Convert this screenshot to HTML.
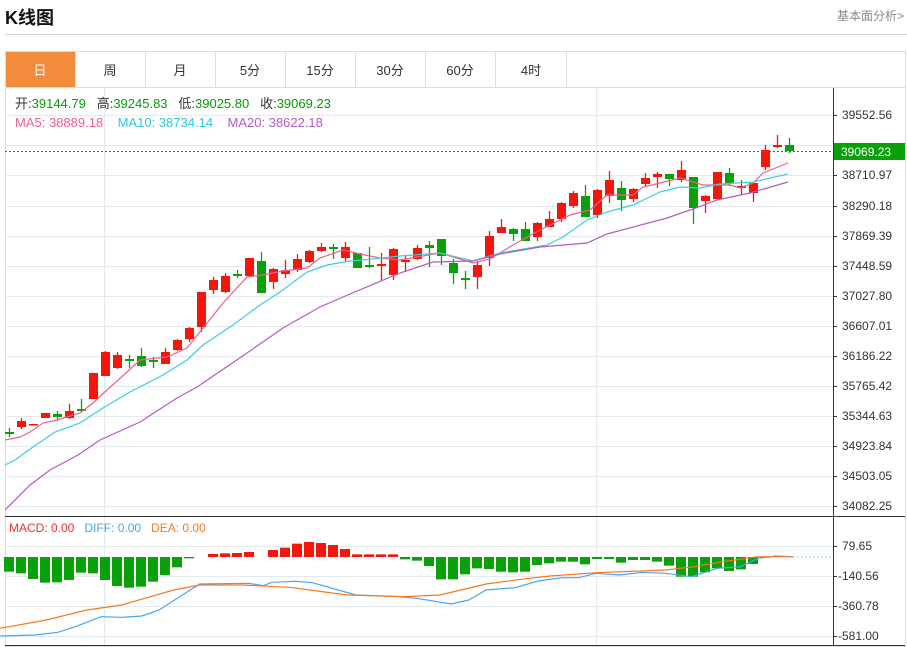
<!DOCTYPE html>
<html><head><meta charset="utf-8"><style>
body{margin:0;background:#fff;width:907px;height:647px;overflow:hidden;font-family:"Liberation Sans","Noto Sans CJK SC",sans-serif;position:relative}
.t{position:absolute;white-space:nowrap}
</style></head><body>
<div class="t" style="left:5px;top:4px;font-size:18px;font-weight:bold;color:#111">K线图</div>
<div class="t" style="left:837px;top:7px;font-size:12px;color:#888">基本面分析&gt;</div>
<div style="position:absolute;left:5px;top:34px;width:902px;height:1px;background:#d4d4d4"></div>
<svg id="s" width="907" height="647" style="position:absolute;left:0;top:0" xmlns="http://www.w3.org/2000/svg" font-family="Liberation Sans, Noto Sans CJK SC, sans-serif">
<rect x="5.5" y="51.5" width="900" height="595" fill="none" stroke="#ddd"/>
<rect x="6" y="52" width="69" height="35" fill="#f28c3c"/>
<g stroke="#ddd"><line x1="5" y1="87.5" x2="905" y2="87.5"/>
<line x1="75.5" y1="52" x2="75.5" y2="87"/><line x1="145.5" y1="52" x2="145.5" y2="87"/><line x1="215.5" y1="52" x2="215.5" y2="87"/><line x1="285.5" y1="52" x2="285.5" y2="87"/><line x1="355.5" y1="52" x2="355.5" y2="87"/><line x1="425.5" y1="52" x2="425.5" y2="87"/><line x1="495.5" y1="52" x2="495.5" y2="87"/><line x1="566.5" y1="52" x2="566.5" y2="87"/></g>
<g font-size="13" text-anchor="middle" fill="#333">
<text x="40" y="75" fill="#fff">日</text><text x="110" y="75">周</text><text x="180" y="75">月</text><text x="250" y="75">5分</text><text x="320" y="75">15分</text><text x="390" y="75">30分</text><text x="460" y="75">60分</text><text x="531" y="75">4时</text></g>
<g id="grid" stroke="#e3ebf1"></g>
<line x1="833.5" y1="88" x2="833.5" y2="646" stroke="#333"/>
<line x1="5" y1="516.5" x2="905" y2="516.5" stroke="#333"/>
<line x1="5" y1="645.5" x2="905" y2="645.5" stroke="#333"/>
<g font-size="12" fill="#333" id="ax">
<text x="842" y="119">39552.56</text><text x="842" y="179">38710.97</text><text x="842" y="210">38290.18</text><text x="842" y="240">37869.39</text><text x="842" y="270">37448.59</text><text x="842" y="300">37027.80</text><text x="842" y="330">36607.01</text><text x="842" y="360">36186.22</text><text x="842" y="390">35765.42</text><text x="842" y="420">35344.63</text><text x="842" y="450">34923.84</text><text x="842" y="480">34503.05</text><text x="842" y="510">34082.25</text>
<text x="842" y="550">79.65</text><text x="838" y="580">-140.56</text><text x="838" y="610">-360.78</text><text x="838" y="640">-581.00</text></g>
<g id="c"></g>
<line x1="5" y1="151.5" x2="833" y2="151.5" stroke="#0a9a0a" stroke-dasharray="2,2"/>
<rect x="834" y="143" width="71" height="17" fill="#0aa00a"/>
<text x="841" y="156" font-size="12" fill="#fff">39069.23</text>
<g font-size="13"><text x="15" y="108" fill="#333" xml:space="preserve">开:<tspan fill="#0a9a0a">39144.79</tspan>   高:<tspan fill="#0a9a0a">39245.83</tspan>   低:<tspan fill="#0a9a0a">39025.80</tspan>   收:<tspan fill="#0a9a0a">39069.23</tspan></text>
<text x="15" y="127" fill="#f0608f" xml:space="preserve">MA5: 38889.18    <tspan fill="#30c8e0">MA10: 38734.14</tspan>    <tspan fill="#b05cc8">MA20: 38622.18</tspan></text>
<text x="9" y="532" font-size="12" fill="#ee3030" xml:space="preserve">MACD: 0.00   <tspan fill="#4da3ef">DIFF: 0.00</tspan>   <tspan fill="#f57a20">DEA: 0.00</tspan></text></g>
</svg>
<script>
var NS="http://www.w3.org/2000/svg",g=document.getElementById('grid'),c=document.getElementById('c'),ax=document.getElementById('ax');
function el(p,t,a){var e=document.createElementNS(NS,t);for(var k in a)e.setAttribute(k,a[k]);p.appendChild(e);return e}
[115,145,175,206,236,266,296,326,356,386,416,446,476,506,546,576,606,636].forEach(function(y){el(g,'line',{x1:5,x2:833,y1:y+.5,y2:y+.5});el(ax,'line',{x1:833,x2:837,y1:y+.5,y2:y+.5,stroke:'#333'})});
[104,596].forEach(function(x){el(g,'line',{x1:x+.5,x2:x+.5,y1:88,y2:645})});
var R='#f3160b',G='#0aa00a';
var K=[[432,434,428,437,'g'],[421,427,418,429,'r'],[424,425,424,425,'r'],[413,418,413,418,'r'],[414,417,411,420,'g'],[411,418,404,419,'r'],[409,411,399,412,'g'],[373,399,373,399,'r'],[352,376,351,376,'r'],[355,368,352,369,'r'],[359,361,355,368,'g'],[356,366,348,367,'g'],[360,362,357,368,'g'],[352,364,348,364,'r'],[340,350,339,351,'r'],[328,339,327,342,'r'],[292,327,292,332,'r'],[280,290,277,294,'r'],[276,292,273,293,'r'],[274,276,270,278,'g'],[258,276,258,276,'r'],[261,293,252,293,'g'],[269,282,268,289,'r'],[270,274,260,278,'r'],[259,270,254,272,'r'],[251,262,250,263,'r'],[247,251,243,252,'r'],[247,249,244,259,'g'],[247,258,242,262,'r'],[253,268,253,268,'g'],[265,267,247,268,'g'],[264,266,253,280,'r'],[249,275,248,280,'r'],[260,262,256,272,'r'],[248,259,245,260,'r'],[245,248,241,267,'g'],[239,256,239,265,'g'],[263,273,259,284,'g'],[278,280,271,289,'g'],[265,277,261,289,'r'],[236,258,231,266,'r'],[227,233,219,233,'r'],[229,234,228,241,'g'],[229,241,222,241,'g'],[223,237,222,241,'r'],[219,227,211,227,'r'],[203,219,202,222,'r'],[193,206,191,208,'r'],[196,217,185,217,'g'],[190,215,189,218,'r'],[180,196,171,203,'r'],[188,200,181,211,'g'],[189,199,188,202,'r'],[178,184,173,186,'r'],[174,177,172,188,'r'],[174,179,174,186,'g'],[170,180,161,182,'r'],[177,208,177,224,'g'],[196,201,195,213,'r'],[172,199,172,199,'r'],[173,183,168,186,'g'],[186,188,180,194,'r'],[183,193,183,202,'r'],[150,167,145,170,'r'],[145,147,135,148,'r'],[145,151,138,153,'g']];
K.forEach(function(k,i){var x=9+i*12,col=k[4]=='r'?R:G;el(c,'line',{x1:x+.5,x2:x+.5,y1:k[2],y2:k[3],stroke:col,'stroke-width':1.3});el(c,'rect',{x:x-4,y:k[0],width:9,height:Math.max(1.5,k[1]-k[0]),fill:col})});
function pl(pts,col,w){el(c,'polyline',{points:pts.map(function(p){return p.join(',')}).join(' '),fill:'none',stroke:col,'stroke-width':w||1.2})}
pl([[5,440],[20,437],[30,432],[43,423],[57,420],[80,413],[93,403],[107,390],[127,372],[140,360],[167,357],[187,348],[200,332],[223,303],[247,277],[263,275],[283,271],[307,268],[320,258],[343,250],[360,254],[380,258],[400,260],[440,253],[473,263],[490,259],[513,245],[540,230],[570,215],[590,210],[607,195],[633,195],[643,187],[660,183],[680,178],[703,185],[730,185],[740,188],[753,183],[763,173],[788,163]],'#f0608f');
pl([[5,465],[15,460],[33,447],[55,432],[80,423],[103,408],[130,392],[163,375],[187,360],[203,345],[233,325],[260,305],[280,292],[307,272],[327,265],[350,261],[373,259],[400,256],[440,253],[473,261],[500,253],[547,245],[563,237],[587,220],[607,212],[633,205],[660,192],[680,187],[700,188],[720,184],[753,182],[788,174]],'#3fcde0');
pl([[5,510],[30,485],[50,470],[78,455],[100,440],[140,422],[177,398],[197,387],[247,353],[283,328],[320,307],[343,297],[400,273],[433,262],[473,261],[500,254],[540,247],[587,243],[607,234],[667,218],[693,209],[717,200],[750,193],[788,182]],'#b05cc8');
var M=[185,190,207,218,217,210,188,190,210,228,233,230,215,195,172,145,142,132,130,129,126,140,120,113,101,96,99,105,117,133,133,133,133,148,152,168,208,208,193,175,177,185,187,185,165,160,155,155,163,147,147,158,150,150,155,167,200,200,187,175,183,178,162,143,142,141];
var Z=557;
M.forEach(function(v,i){var x=9+i*12,y=510+v/3;if(Math.abs(y-Z)<.4)return;el(c,'rect',{x:x-5,y:Math.min(y,Z),width:10,height:Math.abs(y-Z),fill:y>Z?G:R})});
el(c,'line',{x1:793,x2:833,y1:Z,y2:Z,stroke:'#8fd0ee','stroke-dasharray':'2,2'});
function mp(a){return a.map(function(p){return [p[0]/1.728,510+p[1]/3]})}
pl(mp([[0,378],[60,375],[100,367],[130,350],[175,320],[210,322],[245,318],[275,300],[345,222],[430,220],[455,227],[470,217],[510,214],[540,218],[615,255],[690,260],[720,265],[780,282],[810,270],[840,240],[890,233],[930,213],[970,203],[1000,203],[1030,190],[1070,195],[1110,187],[1150,190],[1195,200],[1240,175],[1280,170],[1310,145],[1340,138],[1370,140]]),'#4da3ef');
pl(mp([[0,355],[80,330],[150,300],[210,285],[260,260],[300,240],[345,225],[420,225],[500,232],[600,255],[700,260],[760,255],[840,222],[900,208],[950,198],[1030,188],[1150,180],[1200,170],[1250,155],[1310,140],[1370,140]]),'#f57a20');
</script>
</body></html>
